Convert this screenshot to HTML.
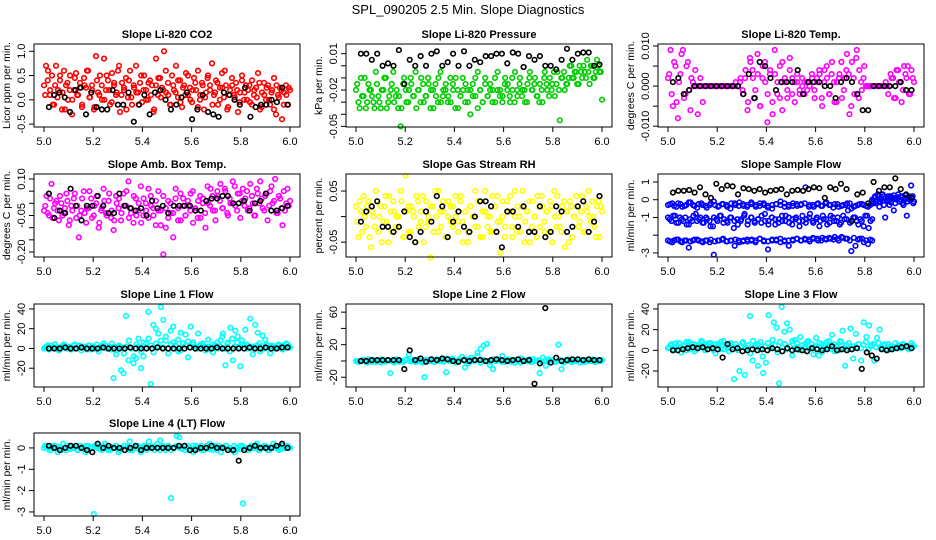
<!DOCTYPE html>
<html><head><meta charset="utf-8"><style>
html,body{margin:0;padding:0;background:#fff;}
svg{display:block;font-family:"Liberation Sans",sans-serif;}
</style></head><body>
<svg id="chart" width="936" height="540" viewBox="0 0 936 540" xmlns="http://www.w3.org/2000/svg">
<rect width="936" height="540" fill="#fff"/>
<text x="468" y="14" text-anchor="middle" font-size="13">SPL_090205  2.5 Min. Slope Diagnostics</text>
</svg>
<script>
// ---- data ----
const xTickVals = [5.0, 5.2, 5.4, 5.6, 5.8, 6.0];
const xTickLabels = ["5.0","5.2","5.4","5.6","5.8","6.0"];

const co2Red = [.3,.7,.6,.1,.5,-.1,.7,.2,.4,-.2,.6,.3,.0,.5,-.3,.2,.55,.1,.35,-.15,.45,.25,.6,.05,.3,-.2,.9,.15,.5,.0,.85,.2,.4,-.1,.55,.3,.1,.6,-.25,.35,.2,.45,.05,.6,-.1,.25,.7,.15,.35,-.05,.5,.2,.0,.4,.3,-.2,.85,.1,.45,.25,1.0,.15,.35,-.1,.5,.2,.7,.05,.4,-.15,.3,.55,.1,.25,-.05,.45,.2,.6,.0,.35,-.2,.15,.5,.3,.75,.1,.4,-.1,.25,.55,.05,.3,-.15,.2,.45,.1,.35,-.25,.15,.5,.0,.3,.2,-.05,.4,.1,.25,.55,-.2,.15,.35,.0,.3,-.1,.2,.45,-.3,.1,.25,-.4,.15,.3,-.1,.2];
const co2Red2 = [.1,.4,.2,-.1,.3,.05,.5,.15,-.2,.35,.2,.0,.45,.1,.25,-.1,.3,.6,.05,.2,-.15,.4,.1,.3,.0,.5,.2,-.05,.35,.15,.7,.1,.25,-.2,.4,.05,.3,.15,-.1,.5,.2,.0,.35,.1,-.25,.3,.45,.05,.2,.6,.1,-.1,.3,.15,.4,-.05,.25,.1,.5,.0,.2,.35,-.15,.1,.3,.05,.45,.2,-.1,.15,.35,.0,.25,.6,-.2,.1,.3,.05,.2,-.05,.4,.15,.0,.3,-.1,.2,.05,.35,-.15,.1,.25,.0,.15,-.2,.3,.05,.2,-.1,.1,.25];
const co2Black = [-.15,.1,.15,.05,-.25,.2,.25,-.3,.15,-.15,-.2,-.2,.2,-.1,-.1,.15,-.45,-.1,.1,-.3,.15,.2,.0,-.2,-.1,.05,.15,-.4,-.2,.1,-.25,-.3,-.35,.15,.1,.0,-.1,.25,-.35,-.15,-.1,-.1,.0,-.05,.25,-.1];
const co2Ticks = [-0.5,0,0.5,1.0];
const co2TickLabels = ["-0.5","0.0","0.5","1.0"];

const presGreen = [-.02,-.03,-.01,-.025,-.035,-.015,-.02,-.03,-.005,-.025,-.035,-.02,-.01,-.03,-.02,-.005,-.025,-.035,-.05,-.015,-.02,-.03,-.01,-.025,-.005,-.02,-.03,-.015,-.025,-.01,-.035,-.02,-.015,-.03,-.005,-.025,-.02,-.03,-.01,-.015,-.035,-.02,-.025,-.01,-.03,-.02,-.04,-.015,-.025,-.005,-.02,-.03,-.01,-.025,-.015,-.02,-.03,-.005,-.02,-.025,-.01,-.015,-.03,-.02,-.005,-.025,-.01,-.02,-.03,-.015,-.005,-.02,-.01,-.025,-.015,-.03,-.005,-.02,-.01,-.015,-.025,-.005,-.045,-.01,-.02,-.015,.0,-.01,-.005,-.015,.0,-.01,-.005,.005,-.015,.0,-.01,.005,-.005,-.028];
const presGreen2 = [-.015,-.035,-.025,-.01,-.03,-.02,-.025,-.035,-.015,-.03,-.02,-.01,-.035,-.025,-.015,-.03,-.02,-.025,-.035,-.01,-.03,-.02,-.015,-.025,-.035,-.02,-.01,-.03,-.025,-.015,-.02,-.035,-.025,-.01,-.03,-.02,-.015,-.025,-.03,-.02,-.01,-.035,-.025,-.02,-.015,-.03,-.02,-.025,-.01,-.035,-.02,-.03,-.015,-.025,-.02,-.03,-.01,-.02,-.025,-.03,-.015,-.02,-.025,-.01,-.03,-.02,-.015,-.025,-.02,-.03,-.01,-.02,-.015,-.025,-.03,-.02,-.01,-.015,-.025,-.02,-.005,-.015,-.02,-.01,-.005,-.015,-.01,.0,-.01,-.005,-.015,-.005,.0,-.01,-.005,.0,-.01,-.005,.0,-.005];
const presBlack = [.01,.01,.005,.01,0,.002,0,.013,-.015,.005,0,.008,0,.01,.012,0,.003,.01,.0,.012,0,.005,.003,.008,.008,.01,.01,.002,.011,.01,-.001,.008,.005,.008,0,0,-.003,.005,.014,.005,.01,.011,.011,0,.001];
const presTicks = [-0.05,-0.04,-0.03,-0.02,-0.01,0,0.01];
const presTickLabels = ["-0.05","","","-0.02","","","0.01"];

const tempMag = [.002,.009,-.005,.005,-.008,.003,.009,-.002,.006,-.006,.001,.004,-.007,.002,-.004,0,0,0,0,0,0,0,0,0,0,0,0,0,0,.001,-.001,.002,-.006,.007,.004,-.003,.008,-.005,.002,.006,-.009,.003,-.004,.009,-.002,.005,-.006,.001,-.003,.007,.002,-.004,.001,-.002,0,.001,-.001,0,.002,-.003,.001,.003,-.005,.004,.002,-.002,.006,-.004,.001,.003,-.003,.002,.008,-.007,.006,-.002,.009,.004,-.001,.005,0,0,0,0,0,0,0,0,0,0,.002,-.003,.004,.001,-.004,.005,.002,-.002,.004,.001];
const tempMag2 = [.003,-.002,.006,-.004,.001,.008,-.003,.005,-.001,.002,0,0,0,0,0,0,0,0,0,0,0,0,0,0,0,0,0,.001,0,.002,-.002,.004,-.004,.006,.002,-.001,.003,-.005,.005,.001,-.002,.004,-.007,.003,.001,-.003,.006,.002,-.001,.004,-.002,.001,.003,-.001,.002,-.002,.001,0,.003,-.001,.002,.004,-.003,.001,.005,-.002,.003,.001,-.004,.002,.006,-.001,.004,.003,-.005,.002,.007,-.003,.001,.002,0,0,0,0,0,0,0,0,.001,-.002,.003,.002,-.003,.004,.001,-.001,.003,.005,-.002,.002];
const tempBlack = [.001,.002,-.002,-.001,0,0,0,0,0,0,0,0,0,-.002,.003,-.003,.006,.005,.002,-.001,.001,.001,.001,.004,-.002,.001,.001,.001,0,0,-.003,.001,.002,.001,-.002,-.006,-.006,0,0,0,0,0,.001,-.001,-.001];
const tempTicks = [-0.010,-0.005,0,0.005,0.010];
const tempTickLabels = ["-0.010","","0.000","","0.010"];

const ambMag = [-.03,.03,-.05,.08,-.02,.01,-.07,.0,-.04,.04,-.09,-.01,.02,-.06,-.14,-.03,.05,-.08,-.02,.02,-.05,.0,-.1,-.03,.06,-.04,.01,-.06,-.11,.03,-.02,-.07,.04,-.01,.09,-.04,-.08,.02,-.03,.07,-.05,.0,-.06,.03,-.02,-.09,.05,-.03,-.21,-.1,.01,-.04,-.14,.06,-.02,-.07,.02,-.05,-.01,.04,-.08,-.03,.01,-.06,.02,-.1,.0,.06,-.03,-.07,.03,.08,-.02,.05,-.05,.0,.09,-.01,.04,-.06,.06,.02,-.03,.08,.0,-.05,.04,.09,-.02,.03,-.07,.05,.0,.1,-.04,.02,-.09,-.03,.06,.01];
const ambMag2 = [-.01,-.04,.02,-.06,.0,-.03,.03,-.05,-.02,.01,-.07,-.03,.04,-.01,-.05,.02,-.04,-.02,.05,-.06,-.01,.03,-.08,-.02,.01,-.05,.04,-.03,-.07,.0,.02,-.04,-.01,.05,-.06,-.02,.03,-.05,.0,-.08,.02,-.03,.06,-.01,-.05,.01,-.03,-.09,.03,-.02,-.06,.0,-.04,.02,-.07,.04,-.01,-.05,.01,-.03,.05,-.02,-.06,.03,.0,-.04,.07,-.01,.03,-.03,.05,.01,-.02,.06,-.04,.02,.0,.07,-.03,.04,.01,-.01,.05,-.02,.03,-.05,.06,.0,.02,-.03,.04,-.01,.07,.01,-.04,.03,-.02,.05,.0,-.01];
const ambBlack = [.04,-.06,-.03,-.04,.06,-.01,-.07,-.01,-.01,.03,-.01,-.04,-.04,.04,-.01,-.02,-.03,-.02,-.05,.01,-.02,-.01,-.04,-.01,-.01,-.01,-.01,-.03,-.03,.01,.02,.02,.03,.03,.0,.0,.01,-.03,.0,.01,.04,-.03,-.03,-.02,-.01];
const ambTicks = [-0.20,-0.15,-0.10,-0.05,0,0.05,0.10];
const ambTickLabels = ["-0.20","","","-0.05","","","0.10"];

const rhYellow = [.02,-.04,.01,.04,-.02,.03,-.06,.0,.05,-.03,.02,-.01,.04,-.05,.01,.03,-.02,.0,.05,-.04,.08,.02,-.03,.01,-.05,.03,-.01,.04,-.02,.0,-.08,.02,.05,-.03,.01,.03,-.04,.0,.02,-.02,.04,-.01,.03,-.05,.01,-.03,.02,.0,.05,-.02,.03,-.04,.01,.0,-.03,.04,.02,-.01,-.07,.03,-.02,.01,.04,-.04,.0,.02,-.03,.05,-.01,.01,-.05,.03,.0,.04,-.02,.02,-.03,.01,.03,-.05,.0,.04,-.02,.02,-.06,.01,.03,-.04,.0,.02,-.01,.04,-.03,.01,.0,.03,-.02,.02,-.04,.01];
const rhYellow2 = [-.01,.03,-.03,.0,.02,-.04,.01,-.02,.03,.0,-.05,.02,-.01,.04,-.03,.01,.0,-.02,.03,-.04,.01,-.03,.02,.0,.04,-.02,.01,-.05,.03,-.01,.02,-.03,.0,.05,-.02,.01,-.04,.03,-.01,.02,.0,-.03,.04,-.01,.01,-.05,.02,.0,-.02,.03,-.04,.01,.05,-.02,.0,-.03,.02,.04,-.01,.0,-.04,.03,.01,-.02,.05,-.03,.0,.02,-.05,.01,.03,-.02,.0,-.04,.02,.04,-.01,.01,-.03,.02,.05,-.02,.0,-.03,.03,.01,-.05,.02,.0,.04,-.02,.01,-.03,.02,.05,-.01,.0,-.04,.03,.02];
const rhBlack = [-.01,.01,.02,.03,-.02,-.02,-.03,-.02,.01,-.04,-.05,-.03,.01,-.01,.04,.02,-.04,-.01,.01,-.02,-.03,.0,.03,.03,.02,-.03,-.06,.01,.01,-.02,.02,-.03,-.03,.02,-.04,-.03,.02,.01,-.03,-.02,.02,.03,-.03,-.01,.04];
const rhTicks = [-0.05,0,0.05];
const rhTickLabels = ["-0.05","","0.05"];

const flowBlueTop = [-.3,-.2,-.4,-.25,-.35,-.15,-.3,-.45,-.2,-.35,-.3,-.1,-.4,-.25,-.3,-.5,-.2,-.35,-.25,-.4,-.15,-.3,-.35,-.2,-.45,-.3,-.25,-.1,-.4,-.3,-.2,-.35,-.25,.7,-.3,-.4,-.2,-.35,-.15,-.3,-.25,-.4,-.3,-.2,-.5,-.35,-.25,-.3,-.4,-.2];
const flowBlueTop2 = [-.25,-.35,-.2,-.4,-.3,-.15,-.35,-.25,-.3,-.45,-.2,-.3,-.35,-.25,-.4,-.2,-.3,-.15,-.35,-.3,-.25,-.4,-.2,-.3,-.35,-.5,-.25,-.3,-.2,-.4,-.35,-.25,-.3,-.2,-.4,-.3,-.25,-.35,-.2,-.3,-.45,-.25,-.35,-.3,-.2,-.4,-.3,-.25,-.35,-.3];
const flowBlueMid = [-1.0,-1.2,-.9,-1.3,-1.1,-1.0,-1.4,-1.2,-.8,-1.1,-1.3,-1.0,-1.2,-1.5,-1.1,-.9,-1.3,-1.2,-1.0,-1.6,-1.1,-1.2,-.9,-1.4,-1.0,-1.2,-1.1,-1.3,-.8,-1.2,-1.0,-1.4,-1.1,-1.2,-.9,-1.3,-1.1,-1.0,-1.5,-1.2,-1.1,-.8,-1.3,-1.0,-1.2,-1.1,-1.4,-.9,-1.2,-1.0,-1.3,-1.1,-.6,-1.2,-1.0,-1.4,-1.2,-.9,-1.6,-1.1];
const flowBlueMid2 = [-1.1,-.9,-1.3,-1.0,-1.2,-1.4,-1.1,-.9,-1.2,-1.0,-1.3,-1.1,-1.5,-1.0,-1.2,-.9,-1.1,-1.3,-1.0,-1.2,-1.4,-1.1,-.8,-1.2,-1.0,-1.3,-1.1,-.9,-1.2,-1.4,-1.0,-1.1,-1.3,-.9,-1.2,-1.0,-1.4,-1.1,-1.2,-.9,-1.3,-1.0,-1.2,-1.1,-1.5,-.9,-1.1,-1.3,-1.0,-1.2,-1.4,-.9,-1.1,-1.3,-1.0,-1.2,-1.1,-1.5,-.9,-1.2];
const flowBlueLow = [-2.3,-2.4,-2.25,-2.35,-2.3,-2.7,-2.3,-2.25,-2.35,-2.3,-2.4,-3.1,-2.3,-2.25,-2.35,-2.3,-2.6,-2.3,-2.35,-2.25,-2.3,-2.4,-2.2,-2.35,-2.8,-2.3,-2.25,-2.4,-2.3,-2.6,-2.3,-2.2,-2.3,-2.25,-2.35,-2.2,-2.3,-2.15,-2.25,-2.2,-2.1,-2.3,-2.15,-2.2,-2.9,-2.6,-2.2,-2.4,-2.5,-2.3];
const flowBlueLow2 = [-2.35,-2.3,-2.25,-2.4,-2.3,-2.35,-2.25,-2.3,-2.4,-2.3,-2.25,-2.35,-2.3,-2.2,-2.35,-2.3,-2.25,-2.4,-2.3,-2.35,-2.25,-2.3,-2.2,-2.3,-2.35,-2.25,-2.3,-2.2,-2.35,-2.3,-2.25,-2.2,-2.3,-2.2,-2.25,-2.15,-2.2,-2.3,-2.2,-2.15,-2.25,-2.2,-2.1,-2.2,-2.3,-2.15,-2.25,-2.2,-2.3,-2.25];
const flowBlueEnd = [.0,-.2,.2,-.1,.3,-.4,.1,-.05,.2,-1.0,.0,.1,-.3,.2,.05,-.6,.1,.0,.3,-.1,.15,-.2,.05,.25,-.9,.1,.0,.8,.2,-.1];
const flowBlueEnd2 = [-.1,.1,-.2,.0,.2,-.1,.05,.3,-.3,.1,-.05,.2,.0,-.15,.1,.25,-.2,.05,.15,-.1,.0,.2,-.3,.1,.05,-.1,.2,.0,.1,-.2];
const flowBlack = [.4,.5,.5,.55,.4,.7,.3,.1,.9,.6,.8,.75,.3,.65,.6,.5,.6,.4,.5,.55,.6,.3,.5,.55,.5,.6,.7,.65,.1,.7,.6,.9,.6,-1.2,.3,.4,-.2,1.0,.5,.7,.7,1.2,.6,.3,.1];
const flowTicks = [-3,-2,-1,0,1];
const flowTickLabels = ["-3","","-1","0","1"];

const line1Cyan = [0,2,-1,3,1,0,-2,2,4,0,1,-1,3,0,2,-2,1,0,3,-1,2,0,-3,1,5,0,2,-1,-30,-6,2,-22,-25,33,-12,0,-15,-10,10,-20,-8,5,37,-36,24,20,15,42,29,8,-5,18,22,3,-3,16,5,14,-9,22,6,0,15,4,2,-2,9,1,-4,3,0,8,15,-17,6,21,-12,18,12,-18,4,19,0,30,-6,24,16,-3,13,9,3,-5,2,0,3,1,-1,2,4,1];
const line1Cyan2 = [1,3,0,2,4,1,-1,2,3,0,2,1,4,0,3,1,2,-1,3,2,0,4,1,2,3,0,1,5,2,-2,3,1,-5,2,8,0,-8,4,2,-3,6,1,10,3,-4,5,2,8,1,12,0,4,6,2,9,-2,5,3,7,1,4,2,0,3,5,1,2,-1,4,3,6,2,12,0,5,-3,10,2,6,1,8,3,4,0,2,1,3,5,2,0,4,1,3,2,1,4,2,3,5,2];
const line1Black = [0,0,0,1,0,0,1,0,0,0,1,0,0,0,0,1,0,0,0,0,1,0,0,0,0,0,1,0,0,0,0,1,0,0,0,0,0,1,0,0,1,0,0,1,1];
const line1Ticks = [-20,0,20,40];
const line1TickLabels = ["-20","0","20","40"];

const line2Cyan = [0,-1,1,0,2,-1,0,1,-2,0,1,-15,0,2,-1,0,1,8,0,-1,2,0,-20,1,0,-1,2,0,1,-14,0,3,-1,0,5,-8,2,1,0,10,15,19,21,-5,-10,0,2,6,-1,0,1,-2,0,3,0,1,-1,2,0,-15,4,-6,0,1,-1,20,-10,0,2,-1,0,1,-2,0,1,0,2,-1,0,1];
const line2Cyan2 = [-1,0,1,-2,0,1,-1,0,2,-1,1,0,-2,1,0,-1,2,0,1,-1,0,-2,1,0,2,-1,0,1,-1,3,0,1,-2,2,5,0,-3,4,2,6,-2,1,0,-1,2,0,1,-1,0,2,-1,1,0,-2,1,0,2,-1,0,1,-1,0,2,1,-1,0,1,-2,0,1,-1,0,2,0,-1,1,0,-1,1,0];
const line2Black = [0,0,1,1,1,1,1,1,-10,13,1,3,-1,2,1,3,2,0,-1,1,0,1,1,0,1,2,1,0,1,2,0,1,-28,-3,65,-2,4,0,1,2,2,1,2,1,1];
const line2Ticks = [-20,0,20,40,60];
const line2TickLabels = ["-20","","20","","60"];

const line3Cyan = [2,5,0,7,3,-2,4,8,1,6,-1,5,3,8,0,4,7,2,-3,6,1,9,4,-1,5,-28,3,-20,7,-24,2,33,-10,5,-15,8,-22,-12,34,4,27,22,-32,42,18,26,20,-5,10,3,13,0,6,9,2,-4,12,-5,6,1,8,3,15,-1,5,9,19,-15,2,21,-8,16,6,-10,27,13,24,5,-10,12,20,2,6,0,4,1,3,5,2,6,3,1,7,4];
const line3Cyan2 = [3,6,1,4,7,2,5,0,8,3,6,1,4,9,2,5,7,3,0,6,4,8,1,5,2,7,3,6,0,4,8,2,5,-3,9,3,6,1,-6,4,7,2,10,5,-2,8,3,6,1,4,9,2,7,0,5,3,8,1,6,4,2,7,-2,5,3,9,1,6,4,0,8,2,5,7,1,4,3,6,2,5,8,1,4,6,3,7,2,5,1,6,4,3,7,2,5,6,3,4,2,5];
const line3Black = [0,0,1,2,3,2,3,1,2,1,-7,6,1,2,-1,0,1,0,1,0,2,1,-1,2,0,1,0,-1,2,1,0,1,4,0,1,0,1,2,-18,-2,-5,-8,1,0,1,2,3,4,2];
const line3Ticks = [-20,0,20,40];
const line3TickLabels = ["-20","0","20","40"];

const line4Cyan = [0,.1,-.1,0,.1,-.2,0,.2,-.1,0,.1,0,-.1,.1,0,-.2,.1,0,-3.1,.1,0,-.1,.2,0,-.1,0,.1,-.2,0,.1,0,.3,-.1,0,.1,-.2,0,.1,.3,0,-.1,.2,.35,0,-.1,.1,-2.35,0,.55,.5,0,-.1,.1,0,-.2,.1,0,.1,-.1,0,.2,-.1,0,.1,-.2,0,.1,0,-.1,-.2,0,.1,-2.6,0,-.1,.1,0,.2,-.1,0,.1,-.1,0,.2,0,-.1,.1,0,.1,0];
const line4Cyan2 = [.1,0,-.1,.1,0,.05,-.1,0,.1,-.05,0,.1,-.1,0,.05,.1,-.1,0,.1,0,-.05,.1,0,-.1,.05,0,.1,-.1,0,.1,.05,-.1,0,.1,0,-.05,.1,-.1,0,.05,.1,0,-.1,.1,0,.05,-.1,0,.1,0,-.05,.1,0,-.1,.1,0,.05,-.1,0,.1,-.05,0,.1,-.1,0,.05,.1,0,-.1,.1,0,-.05,.1,0,-.1,.05,0,.1,-.1,0,.1,.05,-.1,0,.1,0,-.05,.1,0,.05];
const line4Black = [.1,0,-.1,0,.1,.1,0,-.1,-.2,.2,0,.1,0,0,-.1,0,.1,-.1,0,0,0,0,0,0,.1,.1,-.1,-.1,0,0,.1,0,0,-.1,-.1,-.6,-.1,0,.1,0,0,0,.1,.2,0];
const line4Ticks = [-3,-2,-1,0];
const line4TickLabels = ["-3","-2","-1","0"];

// ---- layout ----
const NS = "http://www.w3.org/2000/svg";
const svg = document.getElementById("chart");
const BOX_W = 266, BOX_H = 83;
const panels = [
 {title:"Slope Li-820 CO2", ylab:"Licor ppm per min.", col:0,row:0, yTop:1.15, yBot:-0.56, ticks:co2Ticks, labels:co2TickLabels,
  series:[{v:co2Red,c:"#ff0000",x0:5.0,x1:6.0},{v:co2Red2,c:"#ff0000",x0:5.005,x1:5.995},{v:co2Black,c:"#000",x0:5.02,x1:5.99}]},
 {title:"Slope Li-820 Pressure", ylab:"kPa per min.", col:1,row:0, yTop:0.018, yBot:-0.0505, ticks:presTicks, labels:presTickLabels,
  series:[{v:presGreen,c:"#00cd00",x0:5.0,x1:6.0},{v:presGreen2,c:"#00cd00",x0:5.005,x1:5.995},{v:presBlack,c:"#000",x0:5.02,x1:5.99}]},
 {title:"Slope Li-820 Temp.", ylab:"degrees C per min.", col:2,row:0, yTop:0.0105, yBot:-0.0102, ticks:tempTicks, labels:tempTickLabels,
  series:[{v:tempMag,c:"#ff00ff",x0:5.0,x1:6.0},{v:tempMag2,c:"#ff00ff",x0:5.005,x1:5.995},{v:tempBlack,c:"#000",x0:5.02,x1:5.99}]},
 {title:"Slope Amb. Box Temp.", ylab:"degrees C per min.", col:0,row:1, yTop:0.1205, yBot:-0.2205, ticks:ambTicks, labels:ambTickLabels,
  series:[{v:ambMag,c:"#ff00ff",x0:5.0,x1:6.0},{v:ambMag2,c:"#ff00ff",x0:5.005,x1:5.995},{v:ambBlack,c:"#000",x0:5.02,x1:5.99}]},
 {title:"Slope Gas Stream RH", ylab:"percent per min.", col:1,row:1, yTop:0.0833, yBot:-0.079, ticks:rhTicks, labels:rhTickLabels,
  series:[{v:rhYellow,c:"#ffff00",x0:5.0,x1:6.0},{v:rhYellow2,c:"#ffff00",x0:5.005,x1:5.995},{v:rhBlack,c:"#000",x0:5.02,x1:5.99}]},
 {title:"Slope Sample Flow", ylab:"ml/min per min.", col:2,row:1, yTop:1.45, yBot:-3.23, ticks:flowTicks, labels:flowTickLabels,
  series:[{v:flowBlueTop,c:"#0000ff",x0:5.0,x1:5.83},{v:flowBlueTop2,c:"#0000ff",x0:5.008,x1:5.822},{v:flowBlueMid,c:"#0000ff",x0:5.0,x1:5.83},{v:flowBlueMid2,c:"#0000ff",x0:5.007,x1:5.823},{v:flowBlueLow,c:"#0000ff",x0:5.0,x1:5.83},{v:flowBlueLow2,c:"#0000ff",x0:5.008,x1:5.822},{v:flowBlueEnd,c:"#0000ff",x0:5.83,x1:6.0},{v:flowBlueEnd2,c:"#0000ff",x0:5.833,x1:5.997},{v:flowBlack,c:"#000",x0:5.02,x1:5.99}]},
 {title:"Slope Line 1 Flow", ylab:"ml/min per min.", col:0,row:2, yTop:45, yBot:-39, ticks:line1Ticks, labels:line1TickLabels,
  series:[{v:line1Cyan,c:"#00ffff",x0:5.0,x1:6.0},{v:line1Cyan2,c:"#00ffff",x0:5.005,x1:5.995},{v:line1Black,c:"#000",x0:5.02,x1:5.99}]},
 {title:"Slope Line 2 Flow", ylab:"ml/min per min.", col:1,row:2, yTop:70, yBot:-32, ticks:line2Ticks, labels:line2TickLabels,
  series:[{v:line2Cyan,c:"#00ffff",x0:5.0,x1:6.0},{v:line2Cyan2,c:"#00ffff",x0:5.006,x1:5.994},{v:line2Black,c:"#000",x0:5.02,x1:5.99}]},
 {title:"Slope Line 3 Flow", ylab:"ml/min per min.", col:2,row:2, yTop:44.8, yBot:-35.5, ticks:line3Ticks, labels:line3TickLabels,
  series:[{v:line3Cyan,c:"#00ffff",x0:5.0,x1:6.0},{v:line3Cyan2,c:"#00ffff",x0:5.005,x1:5.995},{v:line3Black,c:"#000",x0:5.02,x1:5.99}]},
 {title:"Slope Line 4 (LT) Flow", ylab:"ml/min per min.", col:0,row:3, yTop:0.70, yBot:-3.19, ticks:line4Ticks, labels:line4TickLabels,
  series:[{v:line4Cyan,c:"#00ffff",x0:5.0,x1:6.0},{v:line4Cyan2,c:"#00ffff",x0:5.005,x1:5.995},{v:line4Black,c:"#000",x0:5.02,x1:5.99}]}
];
const ROW_TOPS = [44,174,304,433];

function mk(tag, attrs, parent){
  const e = document.createElementNS(NS, tag);
  for (const k in attrs) e.setAttribute(k, attrs[k]);
  parent.appendChild(e);
  return e;
}
function slug(s){return s.toLowerCase().replace(/[^a-z0-9]+/g,"-").replace(/^-|-$/g,"");}

panels.forEach(p => {
  const left = 34 + 312*p.col, top = ROW_TOPS[p.row];
  const xs = x => left + 10 + (x - 5.0) * 246;
  const ys = y => top + (p.yTop - y) / (p.yTop - p.yBot) * BOX_H;
  const name = slug(p.title);
  const g = mk("g", {}, svg);
  
  

  const t = mk("text", {x: left + BOX_W/2, y: top - 6, "text-anchor":"middle", "font-size":"11", "font-weight":"bold"}, g);
  t.textContent = p.title;
  
  

  const pts = mk("g", {fill:"none", "stroke-width":"1.6"}, g);
  
  
  p.series.forEach(s => {
    const n = s.v.length;
    s.v.forEach((v, i) => {
      const xv = s.x0 + (n > 1 ? i/(n-1) : 0) * (s.x1 - s.x0);
      const c = mk("circle", {cx: xs(xv).toFixed(1), cy: ys(v).toFixed(1), r: 2.3, stroke: s.c}, pts);
      
      
    });
  });

  const box = mk("rect", {x:left, y:top, width:BOX_W, height:BOX_H, fill:"none", stroke:"#000", "stroke-width":"1"}, g);
  
  

  const xa = mk("g", {stroke:"#000", "stroke-width":"1"}, g);
  
  
  mk("line", {x1: xs(xTickVals[0]), x2: xs(xTickVals[xTickVals.length-1]), y1: top+BOX_H, y2: top+BOX_H}, xa);
  xTickVals.forEach((v,i) => {
    mk("line", {x1: xs(v), x2: xs(v), y1: top+BOX_H, y2: top+BOX_H+5}, xa);
    const tl = mk("text", {x: xs(v), y: top+BOX_H+18, "text-anchor":"middle", "font-size":"11", stroke:"none", fill:"#000"}, xa);
    tl.textContent = xTickLabels[i];
    
    
  });

  const ya = mk("g", {stroke:"#000", "stroke-width":"1"}, g);
  
  
  const tv = p.ticks;
  mk("line", {x1:left, x2:left, y1: ys(tv[0]), y2: ys(tv[tv.length-1])}, ya);
  tv.forEach((v,i) => {
    const y = ys(v);
    mk("line", {x1:left-5, x2:left, y1:y, y2:y}, ya);
    if (p.labels[i]) {
      const tl = mk("text", {x: left-9, y: y, "text-anchor":"middle", "font-size":"11", stroke:"none", fill:"#000", transform:`rotate(-90 ${left-9} ${y})`}, ya);
      tl.textContent = p.labels[i];
      
      
    }
  });
  const yl = mk("text", {x: left-24, y: top+BOX_H/2, "text-anchor":"middle", "font-size":"10.5", transform:`rotate(-90 ${left-24} ${top+BOX_H/2})`}, g);
  yl.textContent = p.ylab;
  
  
});
</script>
</body></html>
